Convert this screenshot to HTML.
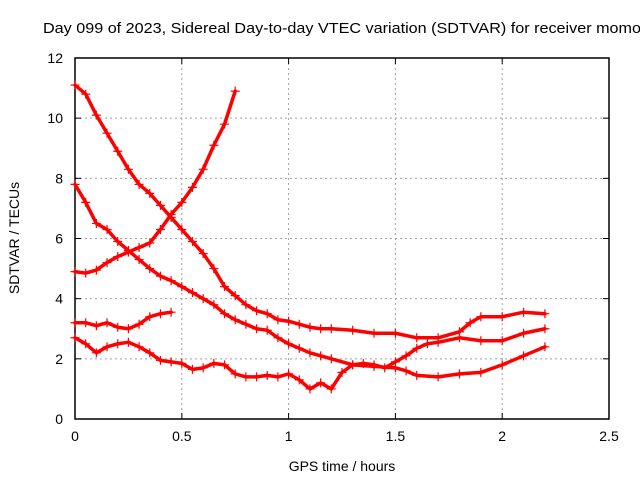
<!DOCTYPE html>
<html><head><meta charset="utf-8"><style>
body{margin:0;background:#fff;overflow:hidden;}
svg text{font-family:"Liberation Sans",sans-serif;font-size:14px;fill:#000;}
</style></head><body>
<svg width="640" height="480" viewBox="0 0 640 480" xmlns="http://www.w3.org/2000/svg">
<g id="grid"></g><g id="axes"></g><g id="series"></g>
<text x="43" y="33" style="font-size:15px" textLength="598" lengthAdjust="spacingAndGlyphs">Day 099 of 2023, Sidereal Day-to-day VTEC variation (SDTVAR) for receiver momo</text>
<text x="342" y="471" text-anchor="middle">GPS time / hours</text>
<text transform="translate(19,238) rotate(-90)" text-anchor="middle">SDTVAR / TECUs</text>
</svg>
<script>
const xTicks=[0,0.5,1,1.5,2,2.5];
const xTickLabels=["0","0.5","1","1.5","2","2.5"];
const yTicks=[0,2,4,6,8,10,12];
const yTickLabels=["0","2","4","6","8","10","12"];
const xA=[0,0.05,0.1,0.15,0.2,0.25,0.3,0.35,0.4,0.45,0.5,0.55,0.6,0.65,0.7,0.75,0.8,0.85,0.9,0.95,1.0,1.05,1.1,1.15,1.2,1.3,1.4,1.5,1.6,1.7,1.8,1.85,1.9,2.0,2.1,2.2];
const yA=[11.1,10.8,10.1,9.5,8.9,8.3,7.8,7.5,7.1,6.7,6.3,5.9,5.5,5.0,4.4,4.1,3.8,3.6,3.5,3.3,3.25,3.15,3.05,3.0,3.0,2.95,2.85,2.85,2.7,2.7,2.9,3.2,3.4,3.4,3.55,3.5];
const xB=[0,0.05,0.1,0.15,0.2,0.25,0.3,0.35,0.4,0.45,0.5,0.55,0.6,0.65,0.7,0.75,0.8,0.85,0.9,0.95,1.0,1.05,1.1,1.15,1.2,1.3,1.4,1.5,1.55,1.6,1.7,1.8,1.9,2.0,2.1,2.2];
const yB=[7.8,7.2,6.5,6.3,5.9,5.6,5.3,5.0,4.75,4.6,4.4,4.2,4.0,3.8,3.5,3.3,3.15,3.0,2.95,2.7,2.5,2.35,2.2,2.1,2.0,1.8,1.75,1.7,1.6,1.45,1.4,1.5,1.55,1.8,2.1,2.4];
const xC=[0,0.05,0.1,0.15,0.2,0.25,0.3,0.35,0.4,0.45,0.5,0.55,0.6,0.65,0.7,0.75];
const yC=[4.9,4.85,4.95,5.2,5.4,5.55,5.7,5.85,6.3,6.8,7.2,7.7,8.3,9.1,9.8,10.9];
const xD=[0,0.05,0.1,0.15,0.2,0.25,0.3,0.35,0.4,0.45];
const yD=[3.2,3.2,3.1,3.2,3.05,3.0,3.15,3.4,3.5,3.55];
const xE=[0,0.05,0.1,0.15,0.2,0.25,0.3,0.35,0.4,0.45,0.5,0.55,0.6,0.65,0.7,0.75,0.8,0.85,0.9,0.95,1.0,1.05,1.1,1.15,1.2,1.25,1.3,1.35,1.4,1.45,1.5,1.55,1.6,1.65,1.7,1.8,1.9,2.0,2.1,2.2];
const yE=[2.7,2.5,2.2,2.4,2.5,2.55,2.4,2.2,1.95,1.9,1.85,1.65,1.7,1.85,1.8,1.5,1.4,1.4,1.45,1.4,1.5,1.3,1.0,1.2,1.0,1.55,1.8,1.85,1.8,1.7,1.9,2.1,2.35,2.5,2.55,2.7,2.6,2.6,2.85,3.0];
const L=75,R=609,T=58,B=419;
const sx=v=>L+(v-0)/2.5*(R-L);
const sy=v=>B-(v-0)/12*(B-T);
const NS="http://www.w3.org/2000/svg";
function mk(t,a,p){const e=document.createElementNS(NS,t);for(const k in a)e.setAttribute(k,a[k]);p.appendChild(e);return e;}
const grid=document.getElementById('grid'),axes=document.getElementById('axes'),ser=document.getElementById('series');
xTicks.forEach((v,i)=>{const x=sx(v);
 if(i>0&&i<xTicks.length-1){const g=mk('line',{x1:x,x2:x,y1:T,y2:B,stroke:'#a0a0a0','stroke-dasharray':'2,3'},grid);
 }
 const t=mk('line',{x1:x,x2:x,y1:B,y2:B-6,stroke:'#000'},axes);
 const t2=mk('line',{x1:x,x2:x,y1:T,y2:T+6,stroke:'#000'},axes);
 const lb=mk('text',{x:x,y:B+22,'text-anchor':'middle'},axes);lb.textContent=xTickLabels[i];
 });
yTicks.forEach((v,i)=>{const y=sy(v);
 if(i>0&&i<yTicks.length-1){const g=mk('line',{x1:L,x2:R,y1:y,y2:y,stroke:'#a0a0a0','stroke-dasharray':'2,3'},grid);
 }
 const t=mk('line',{x1:L,x2:L+6,y1:y,y2:y,stroke:'#000'},axes);
 const t2=mk('line',{x1:R,x2:R-6,y1:y,y2:y,stroke:'#000'},axes);
 const lb=mk('text',{x:L-12,y:y+5,'text-anchor':'end'},axes);lb.textContent=yTickLabels[i];
 });
const fr=mk('rect',{x:L,y:T,width:R-L,height:B-T,fill:'none',stroke:'#000','stroke-width':1.5},axes);

function series(xs,ys,name){
 const g=mk('g',{},ser);
 const pl=mk('polyline',{points:xs.map((x,i)=>sx(x)+','+sy(ys[i])).join(' '),fill:'none',stroke:'#ff0000','stroke-width':3.5,'stroke-linejoin':'round','stroke-linecap':'round'},g);
 
 xs.forEach((x,i)=>{const px=sx(x),py=sy(ys[i]);
  const p=mk('path',{d:`M${px-4.5},${py}H${px+4.5}M${px},${py-4.5}V${py+4.5}`,stroke:'#ff0000','stroke-width':1.2},g);
  });
}
series(xA,yA,'series-a');series(xB,yB,'series-b');series(xC,yC,'series-c');series(xD,yD,'series-d');series(xE,yE,'series-e');
</script>
</body></html>
